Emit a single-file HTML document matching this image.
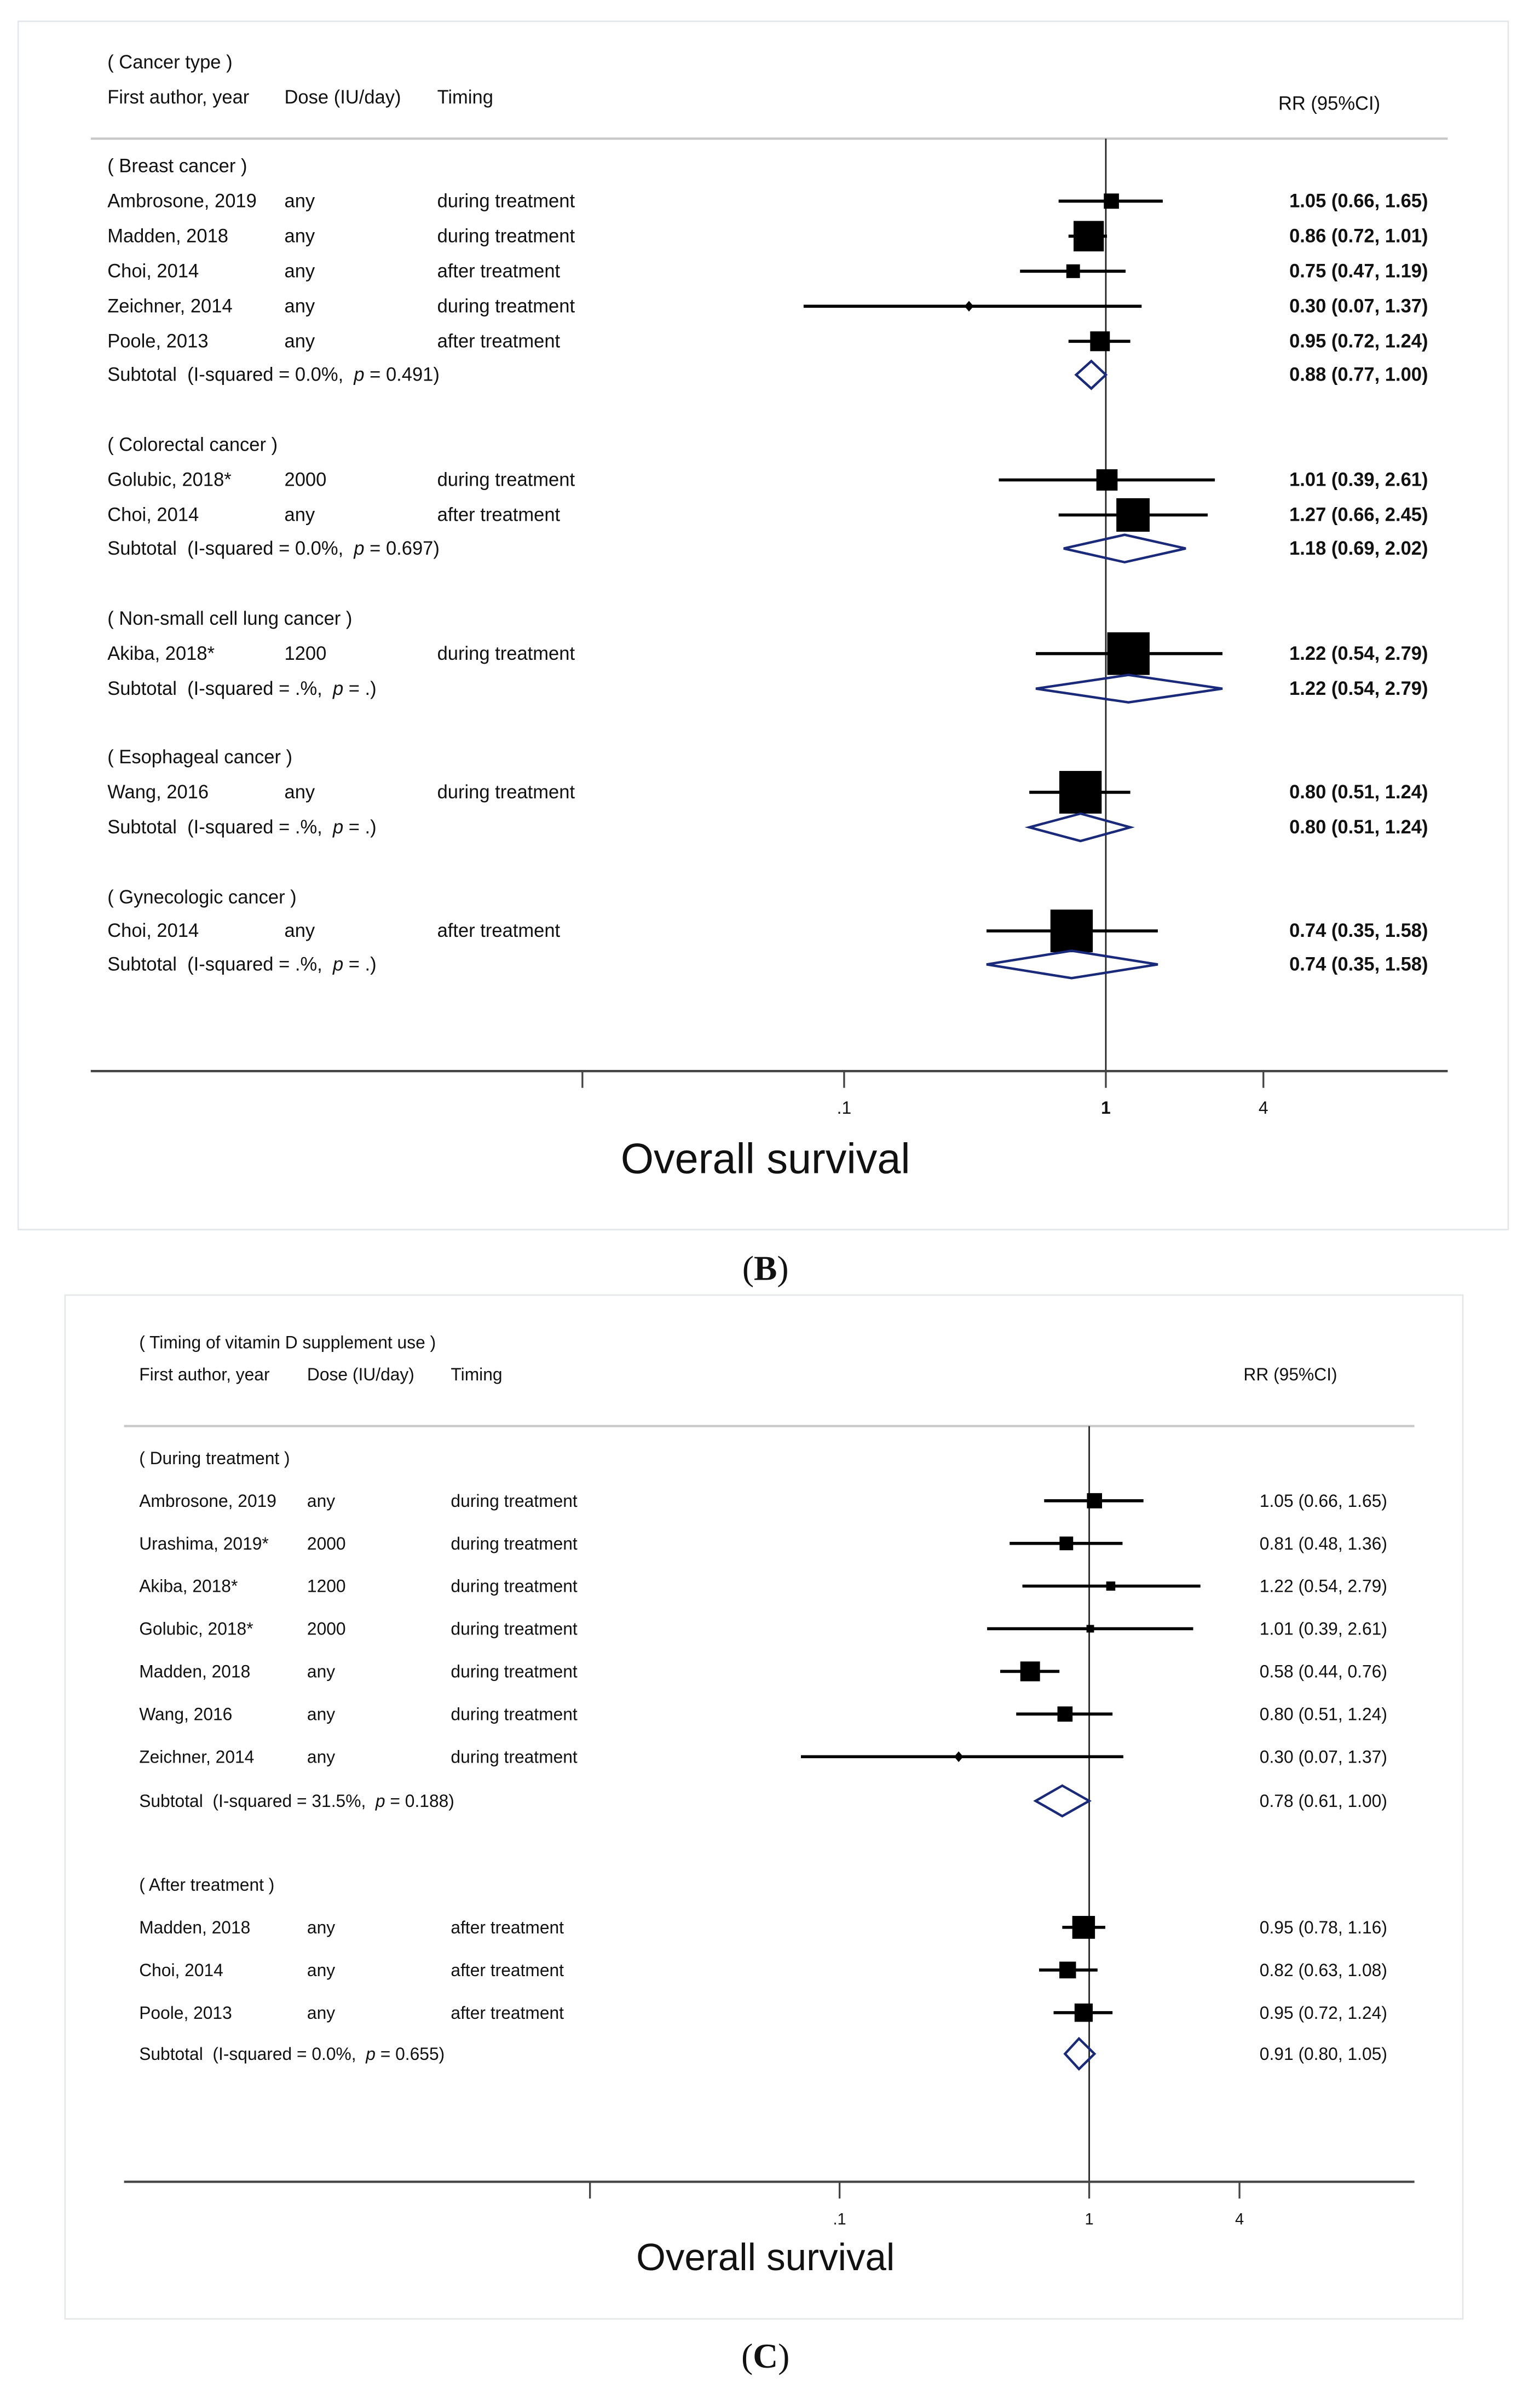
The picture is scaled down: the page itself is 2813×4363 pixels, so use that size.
<!DOCTYPE html>
<html><head><meta charset="utf-8"><style>
html,body{margin:0;padding:0;background:#fff;}
svg{display:block;}
text{font-family:"Liberation Sans",sans-serif;fill:#111;white-space:pre;}
</style></head><body>
<svg id="fig" width="2813" height="4363" viewBox="0 0 1018 1568" preserveAspectRatio="none" xmlns="http://www.w3.org/2000/svg">
<rect x="0" y="0" width="1018" height="1568" fill="#fff"/>
<rect x="12" y="14" width="985" height="793" fill="#fff" stroke="#e4e8ea" stroke-width="1"/>
<rect x="43" y="850" width="924" height="672" fill="#fff" stroke="#e4e8ea" stroke-width="1"/>
<text x="506" y="840" text-anchor="middle" style="font-family:'Liberation Serif',serif;font-size:23px">(<tspan font-weight="bold">B</tspan>)</text>
<text x="506" y="1554" text-anchor="middle" style="font-family:'Liberation Serif',serif;font-size:23px">(<tspan font-weight="bold">C</tspan>)</text>
<g id="gb"></g>
<g id="gc"></g>
</svg>
<script>
// ---------- Panel B data ----------
const bTypes   = ["h","s","s","s","s","s","t","h","s","s","t","h","s","t","h","s","t","h","s","t"];
const bAuthors = ["( Breast cancer )","Ambrosone, 2019","Madden, 2018","Choi, 2014","Zeichner, 2014","Poole, 2013","Subtotal  (I-squared = 0.0%,  |0.491",
  "( Colorectal cancer )","Golubic, 2018*","Choi, 2014","Subtotal  (I-squared = 0.0%,  |0.697",
  "( Non-small cell lung cancer )","Akiba, 2018*","Subtotal  (I-squared = .%,  |.",
  "( Esophageal cancer )","Wang, 2016","Subtotal  (I-squared = .%,  |.",
  "( Gynecologic cancer )","Choi, 2014","Subtotal  (I-squared = .%,  |."];
const bDoses   = ["","any","any","any","any","any","","","2000","any","","","1200","","","any","","","any",""];
const bTimings = ["","during treatment","during treatment","after treatment","during treatment","after treatment","","","during treatment","after treatment","","","during treatment","","","during treatment","","","after treatment",""];
const bRR  = [0,1.05,0.86,0.75,0.30,0.95,0.88,0,1.01,1.27,1.18,0,1.22,1.22,0,0.80,0.80,0,0.74,0.74];
const bLo  = [0,0.66,0.72,0.47,0.07,0.72,0.77,0,0.39,0.66,0.69,0,0.54,0.54,0,0.51,0.51,0,0.35,0.35];
const bHi  = [0,1.65,1.01,1.19,1.37,1.24,1.00,0,2.61,2.45,2.02,0,2.79,2.79,0,1.24,1.24,0,1.58,1.58];
const bWeights = [0,10,20,9,0,13,0,0,14,22,0,0,28,0,0,28,0,0,28,0];
const bRowY = [109,132,155,178,201,224,246,292,315,338,360,406,429,452,497,520,543,589,611,633];
const bTicks = [0.01,0.1,1,4];
const bTickLabels = ["",".1","1","4"];

// ---------- Panel C data ----------
const cTypes   = ["h","s","s","s","s","s","s","s","t","h","s","s","s","t"];
const cAuthors = ["( During treatment )","Ambrosone, 2019","Urashima, 2019*","Akiba, 2018*","Golubic, 2018*","Madden, 2018","Wang, 2016","Zeichner, 2014","Subtotal  (I-squared = 31.5%,  |0.188",
  "( After treatment )","Madden, 2018","Choi, 2014","Poole, 2013","Subtotal  (I-squared = 0.0%,  |0.655"];
const cDoses   = ["","any","2000","1200","2000","any","any","any","","","any","any","any",""];
const cTimings = ["","during treatment","during treatment","during treatment","during treatment","during treatment","during treatment","during treatment","","","after treatment","after treatment","after treatment",""];
const cRR  = [0,1.05,0.81,1.22,1.01,0.58,0.80,0.30,0.78,0,0.95,0.82,0.95,0.91];
const cLo  = [0,0.66,0.48,0.54,0.39,0.44,0.51,0.07,0.61,0,0.78,0.63,0.72,0.80];
const cHi  = [0,1.65,1.36,2.79,2.61,0.76,1.24,1.37,1.00,0,1.16,1.08,1.24,1.05];
const cWeights = [0,10,9,6,5,13,10,0,0,0,15,11,12,0];
const cRowY = [957,985,1013,1041,1069,1097,1125,1153,1182,1237,1265,1293,1321,1348];
const cTicks = [0.01,0.1,1,4];
const cTickLabels = ["",".1","1","4"];

const NS="http://www.w3.org/2000/svg";
function mk(tag, attrs, parent){const e=document.createElementNS(NS,tag);for(const k in attrs)e.setAttribute(k,attrs[k]);parent.appendChild(e);return e;}
function fmt(v){return v.toFixed(2);}

function draw(g, cfg, types, authors, doses, timings, rr, lo, hi, w, rowY, ticks, tickLabels){
  const xs = v => cfg.x1 + cfg.dec*Math.log10(v);
  const fs = cfg.fs;
  let t=mk('text',{x:cfg.colA,y:cfg.hy0,'font-size':fs},g); t.textContent=cfg.title;
   
  t=mk('text',{x:cfg.colA,y:cfg.hy1,'font-size':fs},g); t.textContent="First author, year";
   
  t=mk('text',{x:cfg.colD,y:cfg.hy1,'font-size':fs},g); t.textContent="Dose (IU/day)";
   
  t=mk('text',{x:cfg.colT,y:cfg.hy1,'font-size':fs},g); t.textContent="Timing";
   
  t=mk('text',{x:cfg.colR,y:cfg.hy2,'font-size':fs},g); t.textContent="RR (95%CI)";
   
  let l=mk('line',{x1:cfg.L,x2:cfg.R,y1:cfg.top,y2:cfg.top,stroke:'#c8c8c8','stroke-width':1.5},g);
   
  l=mk('line',{x1:xs(1),x2:xs(1),y1:cfg.top,y2:cfg.axisY,stroke:'#222','stroke-width':1},g);
   
  l=mk('line',{x1:cfg.L,x2:cfg.R,y1:cfg.axisY,y2:cfg.axisY,stroke:'#444','stroke-width':1.5},g);
   
  ticks.forEach((v,i)=>{
    const x=xs(v);
    const tk=mk('line',{x1:x,x2:x,y1:cfg.axisY,y2:cfg.axisY+11,stroke:'#444','stroke-width':1.2},g);
     
    if(tickLabels[i]){const tl=mk('text',{x:x,y:cfg.axisY+28,'font-size':fs-1,'text-anchor':'middle','font-weight':v===1&&cfg.boldOne?'bold':'normal'},g);tl.textContent=tickLabels[i];
       }
  });
  t=mk('text',{x:506,y:cfg.titleY,'font-size':cfg.titleFs,'text-anchor':'middle'},g); t.textContent="Overall survival";
   

  types.forEach((ty,i)=>{
    const y=rowY[i];
    if(ty==='h'){
      const h=mk('text',{x:cfg.colA,y:y+4,'font-size':fs},g); h.textContent=authors[i];
       
      return;
    }
    if(ty==='t'){
      const parts=authors[i].split('|');
      const st=mk('text',{x:cfg.colA,y:y+4,'font-size':fs},g);
       
      const a=mk('tspan',{},st); a.textContent=parts[0];
      const b=mk('tspan',{'font-style':'italic'},st); b.textContent="p";
      const c=mk('tspan',{},st); c.textContent=" = "+parts[1]+")";
      const x0=xs(lo[i]),x1=xs(hi[i]),xm=xs(rr[i]),hh=cfg.dh;
      const d=mk('polygon',{points:`${x0},${y} ${xm},${y-hh} ${x1},${y} ${xm},${y+hh}`,fill:'none',stroke:'#1a2a7a','stroke-width':1.6},g);
       
    } else {
      const a=mk('text',{x:cfg.colA,y:y+4,'font-size':fs},g); a.textContent=authors[i];
       
      const d=mk('text',{x:cfg.colD,y:y+4,'font-size':fs},g); d.textContent=doses[i];
       
      const tm=mk('text',{x:cfg.colT,y:y+4,'font-size':fs},g); tm.textContent=timings[i];
       
      const ci=mk('line',{x1:xs(lo[i]),x2:xs(hi[i]),y1:y,y2:y,stroke:'#000','stroke-width':2},g);
       
      if(w[i]>0){
        const s=w[i];
        const r=mk('rect',{x:xs(rr[i])-s/2,y:y-s/2,width:s,height:s,fill:'#000'},g);
         
      } else {
        const p=mk('polygon',{points:`${xs(rr[i])-3},${y} ${xs(rr[i])},${y-3.5} ${xs(rr[i])+3},${y} ${xs(rr[i])},${y+3.5}`,fill:'#000'},g);
         
      }
    }
    const v=mk('text',{x:cfg.colRR,y:y+4,'font-size':fs,'text-anchor':'end','font-weight':cfg.rrWeight},g);
    v.textContent=`${fmt(rr[i])} (${fmt(lo[i])}, ${fmt(hi[i])})`;
     
  });
}

draw(document.getElementById('gb'),
  {title:"( Cancer type )",fs:12.5,colA:71,colD:188,colT:289,colR:845,colRR:944,hy0:45,hy1:68,hy2:72,L:60,R:957,top:91,axisY:703,x1:731,dec:173,titleY:770,titleFs:28,dh:9,boldOne:true,rrWeight:'bold'},
  bTypes,bAuthors,bDoses,bTimings,bRR,bLo,bHi,bWeights,bRowY,bTicks,bTickLabels);
draw(document.getElementById('gc'),
  {title:"( Timing of vitamin D supplement use )",fs:11.5,colA:92,colD:203,colT:298,colR:822,colRR:917,hy0:885,hy1:906,hy2:906,L:82,R:935,top:936,axisY:1432,x1:720,dec:165,titleY:1490,titleFs:25,dh:10,boldOne:false,rrWeight:'normal'},
  cTypes,cAuthors,cDoses,cTimings,cRR,cLo,cHi,cWeights,cRowY,cTicks,cTickLabels);
</script>
</body></html>
